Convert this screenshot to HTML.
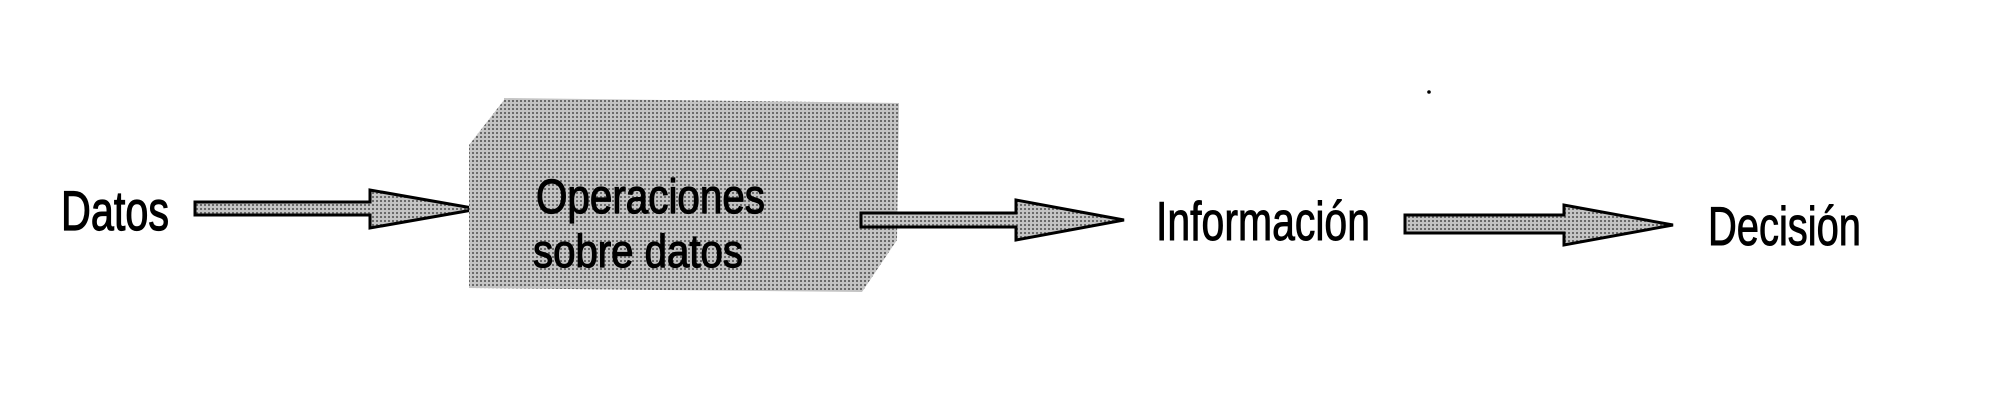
<!DOCTYPE html>
<html><head><meta charset="utf-8"><style>html,body{margin:0;padding:0;background:#fff}svg{display:block}</style></head>
<body>
<svg width="2001" height="400" viewBox="0 0 2001 400" font-family="'Liberation Sans', sans-serif">
<defs>
<pattern id="dots" width="4" height="4" patternUnits="userSpaceOnUse">
<rect width="4" height="4" fill="#c4c4c4"/><rect width="2" height="2" fill="#6a6a6a"/>
</pattern>
</defs>
<circle cx="1429" cy="92" r="1.8" fill="#000"/>
<g stroke="#000" stroke-width="1.2">
<text x="61" y="230" font-size="56" textLength="108" lengthAdjust="spacingAndGlyphs">Datos</text>
</g>
<g>
<polygon points="195,202 370,202 370,190 478,209 370,228 370,215 195,215" fill="url(#dots)" stroke="#000" stroke-width="3"/>
</g>
<g>
<polygon points="504,98 899,103 897,240 862,292 469,288 469,145 504,100" fill="url(#dots)"/>
<text x="536" y="213" font-size="48" textLength="229" lengthAdjust="spacingAndGlyphs" stroke="#000" stroke-width="1.2">Operaciones</text>
<text x="533" y="267" font-size="46" textLength="210" lengthAdjust="spacingAndGlyphs" stroke="#000" stroke-width="1.2">sobre datos</text>
</g>
<g>
<polygon points="861,213 1016,213 1016,200 1124,220 1016,240 1016,227 861,227" fill="url(#dots)" stroke="#000" stroke-width="3"/>
</g>
<text x="1156" y="240" font-size="55" textLength="214" lengthAdjust="spacingAndGlyphs" stroke="#000" stroke-width="1">Información</text>
<g>
<polygon points="1405,215 1564,215 1564,205 1673,225 1564,245 1564,233 1405,233" fill="url(#dots)" stroke="#000" stroke-width="3"/>
</g>
<text x="1708" y="245" font-size="55" textLength="153" lengthAdjust="spacingAndGlyphs" stroke="#000" stroke-width="1">Decisión</text>
</svg>
</body></html>
